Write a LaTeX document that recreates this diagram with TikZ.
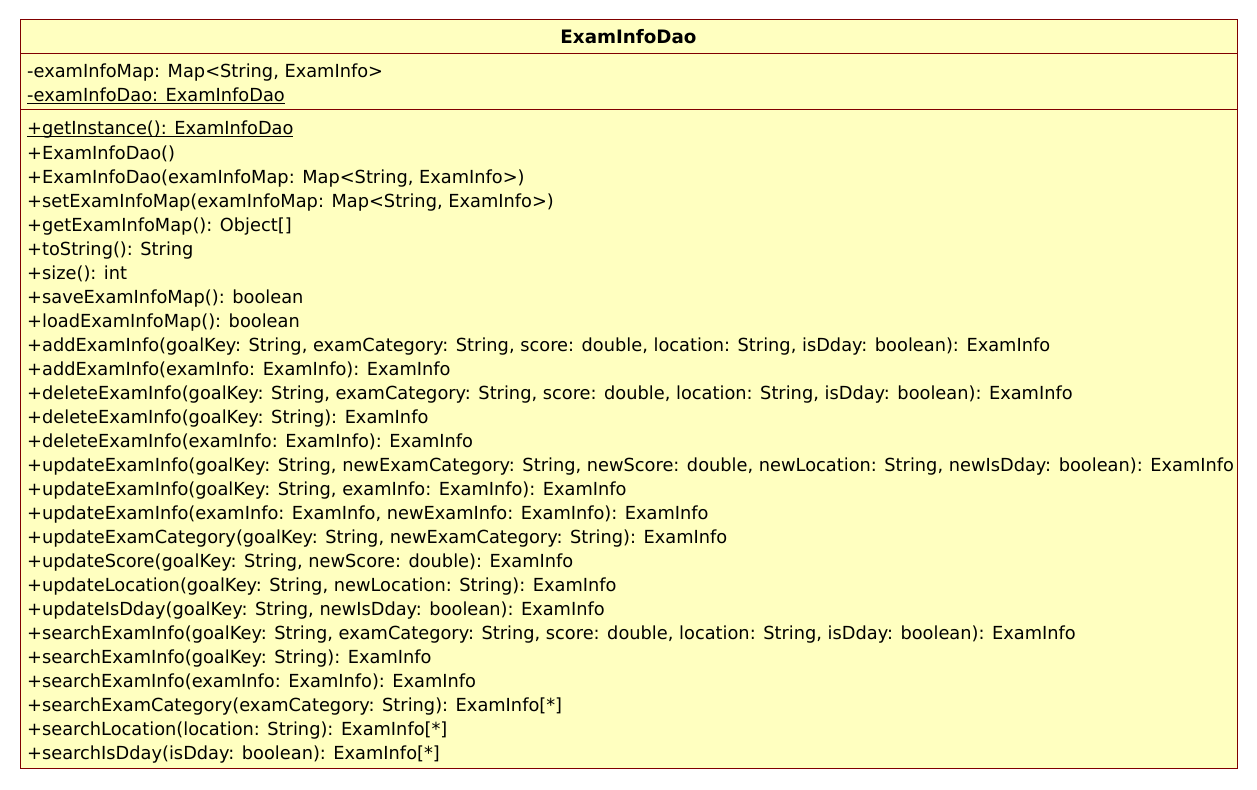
\documentclass[tikz,border=0pt]{standalone}
\usepackage{fontspec}
\setmainfont{DejaVu Sans}[FakeStretch=0.988]
\usetikzlibrary{positioning}
\definecolor{classfill}{HTML}{FFFFC0}
\definecolor{classline}{HTML}{800000}
\newcommand{\staticmember}[1]{\underline{\smash{#1}}}

\begin{document}
\begin{tikzpicture}[x=1pt,y=1pt]
\tikzstyle{member}=[anchor=base west,inner sep=0pt,font=\fontsize{18}{18}\selectfont];
\useasboundingbox (0,0) rectangle (1257,-789);
\draw[classline,fill=classfill,line width=1pt] (20,-20) rectangle (1237,-768);
\draw[classline,line width=1pt] (20,-54) -- (1237,-54);
\draw[classline,line width=1pt] (20,-110) -- (1237,-110);
\node[member,anchor=base,font=\fontsize{18.5}{18}\selectfont\bfseries] (title) at (628.5,-44) {ExamInfoDao};
\node[member] (a1) at (27,-78) {-examInfoMap: Map<String, ExamInfo>};
\node[member] (a2) at (27,-102) {\staticmember{-examInfoDao: ExamInfoDao}};
\foreach \m [count=\i] in {
  {\staticmember{+getInstance(): ExamInfoDao}},
  {+ExamInfoDao()},
  {+ExamInfoDao(examInfoMap: Map<String, ExamInfo>)},
  {+setExamInfoMap(examInfoMap: Map<String, ExamInfo>)},
  {+getExamInfoMap(): Object[]},
  {+toString(): String},
  {+size(): int},
  {+saveExamInfoMap(): boolean},
  {+loadExamInfoMap(): boolean},
  {+addExamInfo(goalKey: String, examCategory: String, score: double, location: String, isDday: boolean): ExamInfo},
  {+addExamInfo(examInfo: ExamInfo): ExamInfo},
  {+deleteExamInfo(goalKey: String, examCategory: String, score: double, location: String, isDday: boolean): ExamInfo},
  {+deleteExamInfo(goalKey: String): ExamInfo},
  {+deleteExamInfo(examInfo: ExamInfo): ExamInfo},
  {+updateExamInfo(goalKey: String, newExamCategory: String, newScore: double, newLocation: String, newIsDday: boolean): ExamInfo},
  {+updateExamInfo(goalKey: String, examInfo: ExamInfo): ExamInfo},
  {+updateExamInfo(examInfo: ExamInfo, newExamInfo: ExamInfo): ExamInfo},
  {+updateExamCategory(goalKey: String, newExamCategory: String): ExamInfo},
  {+updateScore(goalKey: String, newScore: double): ExamInfo},
  {+updateLocation(goalKey: String, newLocation: String): ExamInfo},
  {+updateIsDday(goalKey: String, newIsDday: boolean): ExamInfo},
  {+searchExamInfo(goalKey: String, examCategory: String, score: double, location: String, isDday: boolean): ExamInfo},
  {+searchExamInfo(goalKey: String): ExamInfo},
  {+searchExamInfo(examInfo: ExamInfo): ExamInfo},
  {+searchExamCategory(examCategory: String): ExamInfo[*]},
  {+searchLocation(location: String): ExamInfo[*]},
  {+searchIsDday(isDday: boolean): ExamInfo[*]}}
  \node[member] (m\i) at (27,{-135-24*(\i-1)}) {\m};
\end{tikzpicture}
\end{document}
